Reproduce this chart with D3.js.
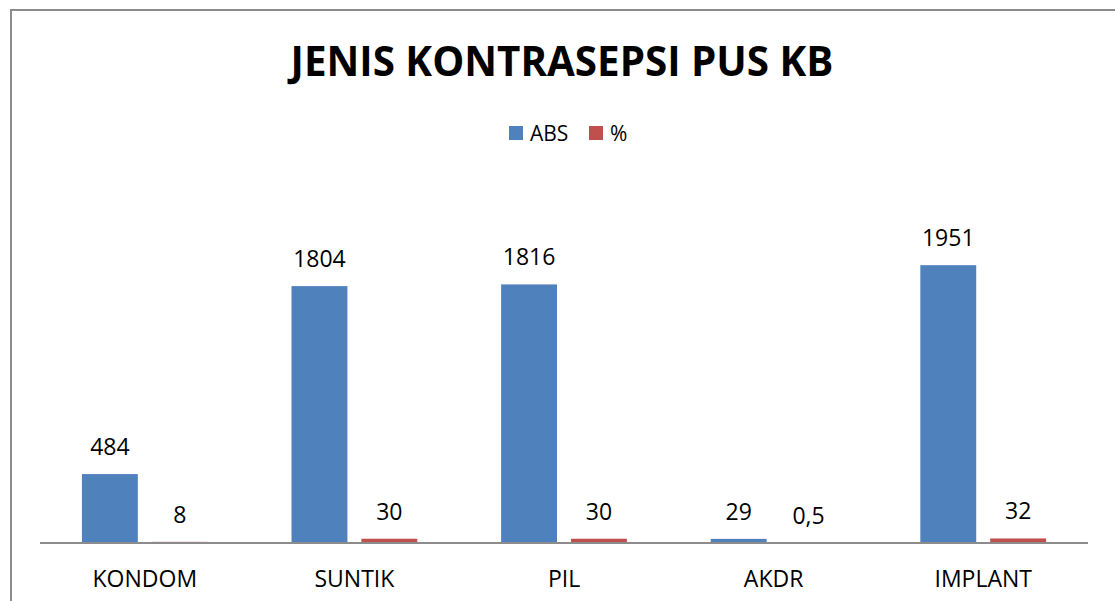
<!doctype html>
<html lang="en">
<head>
<meta charset="utf-8">
<title>JENIS KONTRASEPSI PUS KB</title>
<script src="https://cdn.jsdelivr.net/npm/d3@7"></script>
<style>
  body { margin: 0; background: #fff; }
  text { font-family: "Open Sans", "Liberation Sans", sans-serif; fill: #000; }
</style>
</head>
<body>
<script>
// chart data
var categories = ["KONDOM", "SUNTIK", "PIL", "AKDR", "IMPLANT"];
var seriesNames = ["ABS", "%"];
var absValues = [484, 1804, 1816, 29, 1951];
var pctValues = [8, 30, 30, 0.5, 32];
var colors = ["#4F81BD", "#C0504D"];

var W = 1115, H = 601;
var svg = d3.select("body").append("svg")
    .attr("width", W).attr("height", H);

// outer frame (runs off the right and bottom edge)
svg.append("rect")
    .attr("x", 11).attr("y", 10)
    .attr("width", W + 20).attr("height", H + 20)
    .attr("fill", "none").attr("stroke", "#8c8c8c").attr("stroke-width", 2);

var rows = categories.map(function(c, i){
    return {cat: c, vals: [absValues[i], pctValues[i]]};
});

var x0 = d3.scaleBand().domain(categories).range([40, 1088])
    .paddingInner(0.4).paddingOuter(0.2);
var x1 = d3.scaleBand().domain(seriesNames).range([0, x0.bandwidth()])
    .paddingInner(0.2);
var y = d3.scaleLinear().domain([0, 2500]).range([543, 187]);

var fmt = function(v){ return String(v).replace(".", ","); };

// bars
var groups = svg.append("g").selectAll("g")
    .data(rows).enter().append("g")
    .attr("transform", function(d){ return "translate(" + x0(d.cat) + ",0)"; });

groups.selectAll("rect")
    .data(function(d){ return d.vals.map(function(v, i){ return {s: seriesNames[i], v: v, i: i}; }); })
    .enter().append("rect")
    .attr("x", function(d){ return x1(d.s); })
    .attr("y", function(d){ return y(d.v); })
    .attr("width", x1.bandwidth())
    .attr("height", function(d){ return y(0) - y(d.v); })
    .attr("fill", function(d){ return colors[d.i]; });

groups.selectAll("text")
    .data(function(d){ return d.vals.map(function(v, i){ return {s: seriesNames[i], v: v}; }); })
    .enter().append("text")
    .attr("x", function(d){ return x1(d.s) + x1.bandwidth() / 2; })
    .attr("y", function(d){ return y(d.v) - 19; })
    .attr("text-anchor", "middle")
    .style("font-size", "23px")
    .text(function(d){ return fmt(d.v); });

// x axis
var xAxis = svg.append("g")
    .attr("transform", "translate(0," + y(0) + ")")
    .call(d3.axisBottom(x0).tickSize(0).tickPadding(0));
xAxis.select(".domain").attr("stroke", "#8c8c8c").attr("stroke-width", 2)
    .attr("d", "M40,0H1088");
xAxis.selectAll(".tick text")
    .attr("dy", null).attr("y", 44)
    .style("font-size", "23px")
    .style("font-family", "\"Open Sans\", sans-serif")
    .attr("fill", "#000");

// title
var title = svg.append("text")
    .attr("x", 562).attr("y", 76)
    .attr("text-anchor", "middle")
    .style("font-size", "42px").style("font-weight", "bold")
    .text("JENIS KONTRASEPSI PUS KB");
var tw = title.node().getComputedTextLength();
title.style("font-size", (42 * 543 / tw) + "px");

// legend
var legend = svg.append("g");
var lx = [509, 589];
seriesNames.forEach(function(s, i){
    legend.append("rect")
        .attr("x", lx[i]).attr("y", 126)
        .attr("width", 14).attr("height", 14)
        .attr("fill", colors[i]);
    legend.append("text")
        .attr("x", lx[i] + 21).attr("y", 141)
        .style("font-size", "21px")
        .text(s);
});
</script>
</body>
</html>
